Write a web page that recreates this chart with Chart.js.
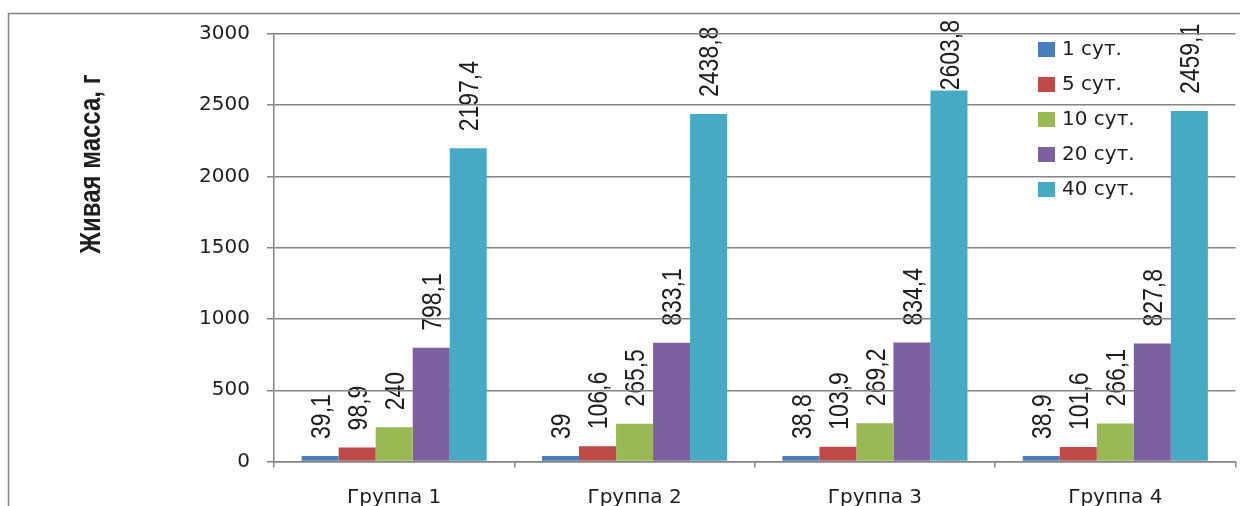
<!DOCTYPE html>
<html lang="ru">
<head>
<meta charset="utf-8">
<title>Живая масса</title>
<script src="https://cdn.jsdelivr.net/npm/chart.js@4/dist/chart.umd.min.js"></script>
<style>
  html, body { margin: 0; padding: 0; background: #ffffff; }
  canvas { display: block; }
</style>
</head>
<body>
<canvas id="chart" width="1240" height="506"></canvas>
<script>
// Groups along the x axis
const categories = ['Группа 1', 'Группа 2', 'Группа 3', 'Группа 4'];
// Series names (age in days)
const seriesNames = ['1 сут.', '5 сут.', '10 сут.', '20 сут.', '40 сут.'];
// Live weight, g
const day1  = [39.1, 39, 38.8, 38.9];
const day5  = [98.9, 106.6, 103.9, 101.6];
const day10 = [240, 265.5, 269.2, 266.1];
const day20 = [798.1, 833.1, 834.4, 827.8];
const day40 = [2197.4, 2438.8, 2603.8, 2459.1];
// Value axis
const yMin = 0;
const yMax = 3000;
const yStep = 500;
const yTitle = 'Живая масса, г';

const seriesValues = [day1, day5, day10, day20, day40];
const seriesColors = ['#4a7ebb', '#be4b48', '#98b954', '#7d60a0', '#46aac5'];

const LINE = '#848484';
const TEXT = '#1e1e1e';

// Decimal comma, as in the labels
const fmt = v => String(v).replace('.', ',');

// White page, outer frame, rotated value labels and axis title.
// Drawn before the scales so grid lines pass over the labels.
const underlay = {
  id: 'underlay',
  beforeDraw(chart) {
    const ctx = chart.ctx;
    ctx.save();
    ctx.fillStyle = '#ffffff';
    ctx.fillRect(0, 0, chart.width, chart.height);

    ctx.strokeStyle = LINE;
    ctx.lineWidth = 1.5;
    ctx.strokeRect(8.5, 13.5, chart.width + 20, chart.height + 20);

    // value labels above every bar, reading bottom to top;
    // a label that would run past the top is pulled down
    ctx.fillStyle = TEXT;
    ctx.font = '23px "Liberation Sans", Arial, sans-serif';
    ctx.textAlign = 'left';
    ctx.textBaseline = 'middle';
    chart.data.datasets.forEach((ds, i) => {
      const meta = chart.getDatasetMeta(i);
      meta.data.forEach((bar, j) => {
        const txt = fmt(ds.data[j]);
        const w = ctx.measureText(txt).width;
        const start = Math.max(bar.y - 17, 20 + w);
        ctx.save();
        ctx.translate(bar.x + 2, start);
        ctx.rotate(-Math.PI / 2);
        ctx.scale(1, 1.2);
        ctx.fillText(txt, 0, 0);
        ctx.restore();
      });
    });

    // y axis title
    ctx.save();
    ctx.translate(92.5, 164);
    ctx.rotate(-Math.PI / 2);
    ctx.scale(1, 1.2);
    ctx.font = 'bold 24px "Liberation Sans", Arial, sans-serif';
    ctx.textAlign = 'center';
    ctx.textBaseline = 'middle';
    ctx.fillText(yTitle, 0, 0);
    ctx.restore();

    ctx.restore();
  }
};

// Legend list at the upper right, over the plot
const legendList = {
  id: 'legendList',
  afterDatasetsDraw(chart) {
    const ctx = chart.ctx;
    ctx.save();
    ctx.font = '20px "DejaVu Sans", sans-serif';
    ctx.textAlign = 'left';
    ctx.textBaseline = 'middle';
    chart.data.datasets.forEach((ds, i) => {
      const cy = 50 + i * 35;
      ctx.fillStyle = ds.backgroundColor;
      ctx.fillRect(1038, cy - 8, 17, 15);
      ctx.fillStyle = TEXT;
      ctx.fillText(ds.label, 1062, cy);
    });
    ctx.restore();
  }
};

new Chart(document.getElementById('chart'), {
  type: 'bar',
  data: {
    labels: categories,
    datasets: seriesNames.map((name, i) => ({
      label: name,
      data: seriesValues[i],
      backgroundColor: seriesColors[i],
      borderWidth: 0,
      barPercentage: 1,
      categoryPercentage: 0.77
    }))
  },
  options: {
    responsive: false,
    devicePixelRatio: 1,
    animation: false,
    layout: { padding: { left: 0, top: 34, right: 4.5, bottom: 0 } },
    plugins: {
      legend: { display: false },
      tooltip: { enabled: false }
    },
    scales: {
      x: {
        grid: {
          drawOnChartArea: false,
          drawTicks: true,
          tickLength: 6,
          color: LINE,
          lineWidth: 1.5,
          offset: true
        },
        border: { color: LINE, width: 1.5 },
        ticks: {
          color: TEXT,
          font: { family: '"DejaVu Sans", sans-serif', size: 20 },
          padding: 18,
          maxRotation: 0
        },
        afterFit(scale) { scale.height = 44.5; }
      },
      y: {
        min: yMin,
        max: yMax,
        grid: { color: LINE, lineWidth: 1.5, tickLength: 7 },
        border: { color: LINE, width: 1.5 },
        ticks: {
          stepSize: yStep,
          color: TEXT,
          font: { family: '"DejaVu Sans", sans-serif', size: 20 },
          padding: 17,
          callback: v => String(v)
        },
        afterFit(scale) { scale.width = 274; }
      }
    }
  },
  plugins: [underlay, legendList]
});
</script>
</body>
</html>
